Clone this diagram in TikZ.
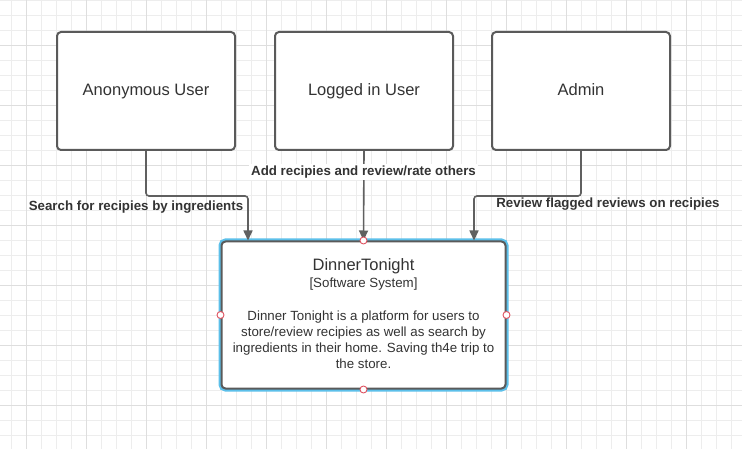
\documentclass[tikz,border=0pt]{standalone}
\usepackage{fontspec}
\setmainfont{Liberation Sans}
\usetikzlibrary{arrows.meta}
\definecolor{gridlight}{HTML}{EDEDED}
\definecolor{griddark}{HTML}{DEDEDE}
\definecolor{boxgray}{HTML}{5A5A5A}
\definecolor{txtgray}{HTML}{333333}
\definecolor{linegray}{HTML}{606060}
\definecolor{selblue}{HTML}{5CC0EA}
\definecolor{ptred}{HTML}{E05563}
\tikzset{
  gridl/.style={draw=gridlight, line width=1pt},
  gridd/.style={draw=griddark, line width=1pt},
  actor/.style={draw=boxgray, fill=white, line width=2pt, rounded corners=4pt,
    minimum width=178pt, minimum height=118pt, text=txtgray,
    text height=12pt, text depth=3.5pt,
    font=\fontsize{16.5}{20}\selectfont},
  system/.style={draw=boxgray, fill=white, line width=2pt, rounded corners=4pt,
    minimum width=284pt, minimum height=147pt,
    preaction={draw=selblue, line width=6pt}},
  arr/.style={draw=linegray, line width=1.6pt, rounded corners=3pt,
    -{Triangle[length=10pt,width=9pt]}},
  lbl/.style={text=txtgray, font=\fontsize{13.3}{16}\selectfont\bfseries, inner sep=1pt},
  cpt/.style={circle, draw=ptred, fill=white, line width=0.9pt, inner sep=0pt, minimum size=7pt},
  systxt/.style={text=txtgray, inner sep=0pt, align=center}
}
\begin{document}
\begin{tikzpicture}[x=1pt, y=-1pt]
\useasboundingbox (0,0) rectangle (742,449);
\fill[white] (0,0) rectangle (742,449);
% grid
\foreach \i in {0,...,48} {\draw[gridl] ({11.7+15*\i},0) -- ({11.7+15*\i},449);}
\foreach \i in {0,...,29} {\draw[gridl] (0,{0.7+15*\i}) -- (742,{0.7+15*\i});}
\foreach \i in {0,...,11} {\draw[gridd] ({26.7+60*\i},0) -- ({26.7+60*\i},449);}
\foreach \i in {0,...,6} {\draw[gridd] (0,{45.7+60*\i}) -- (742,{45.7+60*\i});}

% actors
\node[actor] (anon) at (146,91) {Anonymous User};
\node[actor] (logged) at (364,91) {Logged in User};
\node[actor] (admin) at (581,91) {Admin};

% system
\node[system] (sys) at (363.5,315) {};
\node[systxt, font=\fontsize{16.5}{20}\selectfont] (systitle) at (363.5,266) {DinnerTonight};
\node[systxt, font=\fontsize{13.3}{16}\selectfont] (systype) at (363.5,284.5) {[Software System]};
\node[systxt, font=\fontsize{13.3}{16}\selectfont] (sysdesc) at (363.5,340) {Dinner Tonight is a platform for users to\\store/review recipies as well as search by\\ingredients in their home. Saving th4e trip to\\the store.};

% connectors
\draw[arr] (anon.south) -- ++(0,45) -| ([xshift=27.5pt]sys.north west);
\draw[arr] (logged.south) -- (sys.north);
\draw[arr] (admin.south) -- ++(0,45) -| ([xshift=-32.5pt]sys.north east);

% labels
\node[lbl] (lanon) at (136,207) {Search for recipies by ingredients};
\node[lbl, fill=white, inner sep=2pt] (llogged) at (363.5,172) {Add recipies and review/rate others};
\node[lbl] (ladmin) at (608,204) {Review flagged reviews on recipies};

% connection points
\node[cpt] (pn) at (sys.north) {};
\node[cpt] (ps) at (sys.south) {};
\node[cpt] (pw) at (sys.west) {};
\node[cpt] (pe) at (sys.east) {};
\end{tikzpicture}
\end{document}
